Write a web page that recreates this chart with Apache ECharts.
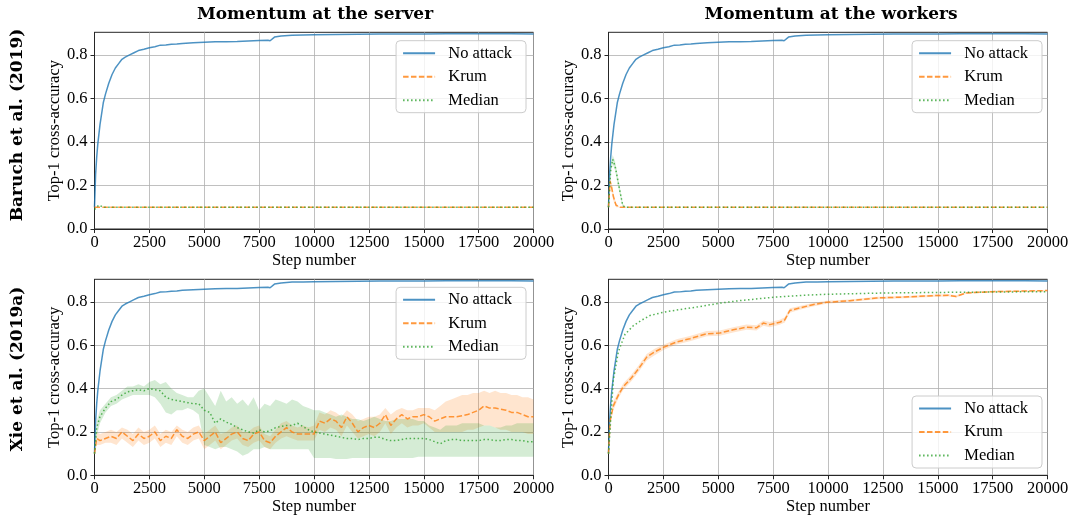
<!DOCTYPE html>
<html>
<head>
<meta charset="utf-8">
<script src="https://cdn.jsdelivr.net/npm/echarts@6/dist/echarts.min.js"></script>
<style>
  html, body { margin: 0; padding: 0; background: #fff; }
  #chart { width: 1073px; height: 517px; }
</style>
</head>
<body>
<div id="chart"></div>
<script>
// tick labels
var stepTicks = [0, 2500, 5000, 7500, 10000, 12500, 15000, 17500, 20000];
var accTicks = [0, 0.2, 0.4, 0.6, 0.8];

// no attack run (same curve in every panel)
var noAttackSteps = [0, 50, 100, 150, 250, 400, 500, 650, 800, 950, 1100, 1250, 1400, 1600, 1800, 2000, 2250, 2500, 2750, 3000, 3250, 3500, 3750, 4000, 4500, 5000, 5500, 6000, 6500, 7000, 7500, 7900, 8000, 8200, 8500, 9000, 9500, 10000, 11000, 12000, 13000, 14000, 15000, 16000, 17000, 18000, 19000, 20000];
var noAttackAcc = [0.10, 0.25, 0.33, 0.39, 0.48, 0.58, 0.62, 0.67, 0.71, 0.74, 0.76, 0.78, 0.79, 0.80, 0.81, 0.82, 0.826, 0.833, 0.838, 0.845, 0.846, 0.849, 0.850, 0.853, 0.856, 0.858, 0.860, 0.861, 0.862, 0.864, 0.866, 0.867, 0.865, 0.882, 0.887, 0.891, 0.892, 0.893, 0.894, 0.895, 0.896, 0.896, 0.896, 0.897, 0.897, 0.897, 0.897, 0.896];

// Baruch et al., momentum at the server
var baruchServerKrumSteps = [0, 20000];
var baruchServerKrumAcc = [0.10, 0.10];
var baruchServerMedianSteps = [0, 100, 200, 400, 20000];
var baruchServerMedianAcc = [0.09, 0.10, 0.11, 0.10, 0.10];

// Baruch et al., momentum at the workers
var baruchWorkersKrumSteps = [0, 70, 145, 220, 340, 520, 20000];
var baruchWorkersKrumAcc = [0.10, 0.22, 0.19, 0.15, 0.11, 0.10, 0.10];
var baruchWorkersKrumLow = [0.10, 0.20, 0.17, 0.13, 0.10, 0.10, 0.10];
var baruchWorkersKrumHigh = [0.10, 0.24, 0.21, 0.17, 0.12, 0.10, 0.10];
var baruchWorkersMedianSteps = [0, 100, 190, 300, 450, 645, 750, 20000];
var baruchWorkersMedianAcc = [0.10, 0.27, 0.32, 0.29, 0.21, 0.11, 0.10, 0.10];
var baruchWorkersMedianLow = [0.10, 0.25, 0.30, 0.27, 0.19, 0.10, 0.10, 0.10];
var baruchWorkersMedianHigh = [0.10, 0.29, 0.34, 0.31, 0.23, 0.12, 0.10, 0.10];

// Xie et al., momentum at the server
var xieServerSteps = [0, 100, 250, 500, 750, 1000, 1250, 1500, 1750, 2000,
  2250, 2500, 2750, 3000, 3250, 3500, 3750, 4000, 4250, 4500,
  4750, 5000, 5250, 5500, 5750, 6000, 6250, 6500, 6750, 7000,
  7250, 7500, 7750, 8000, 8250, 8500, 8750, 9000, 9250, 9500,
  9750, 10000, 10250, 10500, 10750, 11000, 11250, 11500, 11750, 12000,
  12250, 12500, 12750, 13000, 13250, 13500, 13750, 14000, 14250, 14500,
  14750, 15000, 15250, 15500, 15750, 16000, 16250, 16500, 16750, 17000,
  17250, 17500, 17750, 18000, 18250, 18500, 18750, 19000, 19250, 19500,
  19750, 20000];
var xieServerKrumAcc = [0.10, 0.17, 0.16, 0.17, 0.18, 0.17, 0.20, 0.18, 0.16, 0.19,
  0.17, 0.18, 0.20, 0.16, 0.18, 0.17, 0.21, 0.18, 0.17, 0.19,
  0.20, 0.16, 0.18, 0.20, 0.15, 0.17, 0.19, 0.20, 0.17, 0.16,
  0.19, 0.20, 0.16, 0.15, 0.18, 0.20, 0.22, 0.20, 0.19, 0.19,
  0.19, 0.19, 0.25, 0.24, 0.26, 0.25, 0.22, 0.27, 0.24, 0.20,
  0.22, 0.23, 0.22, 0.24, 0.28, 0.23, 0.26, 0.28, 0.26, 0.27,
  0.27, 0.28, 0.27, 0.25, 0.26, 0.27, 0.27, 0.27, 0.275, 0.28,
  0.29, 0.30, 0.32, 0.31, 0.31, 0.305, 0.30, 0.29, 0.29, 0.28,
  0.27, 0.27];
var xieServerKrumLow = [0.09, 0.14, 0.14, 0.15, 0.15, 0.14, 0.17, 0.15, 0.13, 0.16,
  0.14, 0.15, 0.17, 0.13, 0.15, 0.14, 0.18, 0.15, 0.14, 0.16,
  0.17, 0.12, 0.14, 0.16, 0.12, 0.14, 0.16, 0.17, 0.14, 0.13,
  0.15, 0.16, 0.13, 0.12, 0.15, 0.17, 0.18, 0.17, 0.16, 0.16,
  0.16, 0.16, 0.21, 0.20, 0.22, 0.21, 0.18, 0.23, 0.20, 0.17,
  0.18, 0.19, 0.18, 0.20, 0.24, 0.19, 0.22, 0.24, 0.22, 0.23,
  0.23, 0.24, 0.22, 0.20, 0.20, 0.20, 0.20, 0.20, 0.20, 0.21,
  0.21, 0.22, 0.23, 0.23, 0.22, 0.21, 0.21, 0.20, 0.20, 0.20,
  0.19, 0.19];
var xieServerKrumHigh = [0.11, 0.20, 0.19, 0.20, 0.21, 0.20, 0.22, 0.21, 0.19, 0.22,
  0.20, 0.21, 0.23, 0.19, 0.21, 0.20, 0.23, 0.21, 0.20, 0.22,
  0.23, 0.19, 0.21, 0.23, 0.19, 0.20, 0.22, 0.23, 0.20, 0.20,
  0.22, 0.23, 0.19, 0.18, 0.21, 0.24, 0.25, 0.23, 0.22, 0.23,
  0.22, 0.23, 0.29, 0.28, 0.30, 0.29, 0.27, 0.30, 0.28, 0.25,
  0.26, 0.27, 0.27, 0.28, 0.31, 0.28, 0.30, 0.31, 0.30, 0.30,
  0.31, 0.31, 0.31, 0.30, 0.32, 0.34, 0.35, 0.36, 0.37, 0.37,
  0.38, 0.38, 0.39, 0.38, 0.39, 0.38, 0.38, 0.37, 0.37, 0.36,
  0.36, 0.35];
var xieServerMedianAcc = [0.10, 0.22, 0.27, 0.31, 0.34, 0.35, 0.37, 0.385, 0.39, 0.395,
  0.39, 0.40, 0.395, 0.39, 0.36, 0.35, 0.345, 0.34, 0.335, 0.33,
  0.33, 0.30, 0.29, 0.24, 0.26, 0.245, 0.235, 0.22, 0.21, 0.20,
  0.195, 0.21, 0.20, 0.205, 0.22, 0.225, 0.23, 0.23, 0.24, 0.225,
  0.21, 0.20, 0.195, 0.19, 0.185, 0.18, 0.175, 0.17, 0.17, 0.165,
  0.17, 0.17, 0.175, 0.175, 0.165, 0.16, 0.16, 0.165, 0.17, 0.17,
  0.17, 0.17, 0.165, 0.155, 0.145, 0.16, 0.165, 0.165, 0.16, 0.16,
  0.16, 0.16, 0.165, 0.165, 0.16, 0.16, 0.165, 0.165, 0.16, 0.16,
  0.155, 0.155];
var xieServerMedianLow = [0.10, 0.18, 0.24, 0.29, 0.32, 0.33, 0.35, 0.36, 0.37, 0.37,
  0.37, 0.37, 0.36, 0.33, 0.29, 0.28, 0.30, 0.30, 0.31, 0.30,
  0.28, 0.14, 0.13, 0.12, 0.13, 0.13, 0.12, 0.11, 0.09, 0.10,
  0.12, 0.12, 0.13, 0.12, 0.12, 0.12, 0.12, 0.12, 0.12, 0.12,
  0.12, 0.08, 0.08, 0.08, 0.08, 0.075, 0.075, 0.075, 0.08, 0.08,
  0.08, 0.08, 0.08, 0.08, 0.08, 0.08, 0.08, 0.08, 0.08, 0.08,
  0.085, 0.085, 0.085, 0.085, 0.085, 0.085, 0.085, 0.085, 0.085, 0.085,
  0.085, 0.085, 0.085, 0.085, 0.085, 0.085, 0.085, 0.085, 0.085, 0.085,
  0.085, 0.085];
var xieServerMedianHigh = [0.10, 0.25, 0.30, 0.33, 0.36, 0.37, 0.39, 0.41, 0.41, 0.42,
  0.41, 0.43, 0.44, 0.42, 0.43, 0.40, 0.38, 0.37, 0.36, 0.36,
  0.39, 0.40, 0.36, 0.32, 0.39, 0.34, 0.36, 0.33, 0.35, 0.32,
  0.36, 0.30, 0.33, 0.32, 0.35, 0.34, 0.33, 0.35, 0.34, 0.32,
  0.31, 0.30, 0.30, 0.29, 0.28, 0.27, 0.28, 0.27, 0.26, 0.26,
  0.25, 0.26, 0.27, 0.26, 0.25, 0.25, 0.26, 0.26, 0.26, 0.26,
  0.25, 0.25, 0.23, 0.22, 0.21, 0.23, 0.23, 0.23, 0.24, 0.24,
  0.24, 0.24, 0.23, 0.23, 0.22, 0.22, 0.23, 0.23, 0.24, 0.24,
  0.24, 0.24];

// Xie et al., momentum at the workers
var xieWorkersKrumSteps = [0, 70, 220, 450, 680, 1050, 1360, 1740, 2120, 2500, 3100, 3710, 4470, 5070, 5680, 6290, 6740, 7050, 7350, 7800, 8030, 8260, 8710, 9310, 9930, 11000, 12200, 13500, 14930, 15500, 15840, 16300, 17500, 20000];
var xieWorkersKrumAcc = [0.10, 0.25, 0.32, 0.37, 0.41, 0.45, 0.49, 0.545, 0.57, 0.59, 0.615, 0.63, 0.653, 0.656, 0.671, 0.683, 0.68, 0.702, 0.695, 0.706, 0.717, 0.76, 0.772, 0.787, 0.798, 0.805, 0.818, 0.822, 0.829, 0.83, 0.825, 0.841, 0.847, 0.852];
var xieWorkersKrumLow = [0.10, 0.23, 0.30, 0.355, 0.395, 0.435, 0.475, 0.53, 0.555, 0.578, 0.603, 0.618, 0.641, 0.644, 0.659, 0.671, 0.668, 0.69, 0.683, 0.694, 0.705, 0.75, 0.763, 0.779, 0.791, 0.799, 0.812, 0.817, 0.824, 0.825, 0.82, 0.837, 0.843, 0.849];
var xieWorkersKrumHigh = [0.10, 0.27, 0.34, 0.385, 0.425, 0.465, 0.505, 0.56, 0.585, 0.602, 0.627, 0.642, 0.665, 0.668, 0.683, 0.695, 0.692, 0.714, 0.707, 0.718, 0.729, 0.77, 0.781, 0.795, 0.805, 0.811, 0.824, 0.827, 0.834, 0.835, 0.83, 0.845, 0.851, 0.855];
var xieWorkersMedianSteps = [0, 70, 220, 450, 750, 1130, 1500, 1890, 2500, 3400, 4160, 5000, 6000, 7500, 9000, 10000, 12650, 15700, 20000];
var xieWorkersMedianAcc = [0.10, 0.21, 0.44, 0.57, 0.65, 0.69, 0.715, 0.737, 0.752, 0.767, 0.778, 0.793, 0.806, 0.821, 0.831, 0.835, 0.841, 0.844, 0.847];

var BLUE = 'rgba(31,119,180,0.8)';
var ORANGE = 'rgba(255,127,14,0.8)';
var GREEN = 'rgba(44,160,44,0.8)';
var ORANGE_FILL = 'rgba(255,127,14,0.2)';
var GREEN_FILL = 'rgba(44,160,44,0.2)';
var FONT = 'Liberation Serif';
var TITLE_FONT = 'bold 17px "DejaVu Serif"';

function pairs(steps, vals) {
  return steps.map(function (s, i) { return [s, vals[i]]; });
}

function line(name, idx, steps, vals, color, dash) {
  return {
    name: name, type: 'line', xAxisIndex: idx, yAxisIndex: idx,
    data: pairs(steps, vals),
    symbol: 'none', showSymbol: false, z: 3,
    color: color,
    lineStyle: { color: color, width: 1.5, type: dash }
  };
}

// shaded band between lo and hi, drawn as one polygon through the axes
function band(idx, steps, lo, hi, fill) {
  return {
    type: 'custom', xAxisIndex: idx, yAxisIndex: idx, silent: true, z: 2,
    data: [[steps[0], lo[0]]],
    renderItem: function (params, api) {
      var pts = [];
      for (var i = 0; i < steps.length; i++) pts.push(api.coord([steps[i], hi[i]]));
      for (var j = steps.length - 1; j >= 0; j--) pts.push(api.coord([steps[j], lo[j]]));
      return { type: 'polygon', shape: { points: pts }, style: { fill: fill, stroke: null } };
    }
  };
}

var DASH = [5.5, 2.4];
var DOT = [1.5, 2.5];

var grids = [
  { left: 94.5, top: 32.3, width: 439, height: 196.7 },
  { left: 608.5, top: 32.3, width: 439, height: 196.7 },
  { left: 94.5, top: 279.3, width: 439, height: 196 },
  { left: 608.5, top: 279.3, width: 439, height: 196 }
];
var legendPos = [
  { right: 547, top: 40.7 },
  { right: 31, top: 40.7 },
  { right: 547, top: 287.3 },
  { right: 31, top: 396 }
];

var chart = echarts.init(document.getElementById('chart'), null, { renderer: 'canvas' });

var series = [];
// top-left
series.push(line('No attack', 0, noAttackSteps, noAttackAcc, BLUE, 'solid'));
series.push(line('Krum', 0, baruchServerKrumSteps, baruchServerKrumAcc, ORANGE, DASH));
series.push(line('Median', 0, baruchServerMedianSteps, baruchServerMedianAcc, GREEN, DOT));
// top-right
series.push(line('No attack', 1, noAttackSteps, noAttackAcc, BLUE, 'solid'));
series.push(band(1, baruchWorkersKrumSteps, baruchWorkersKrumLow, baruchWorkersKrumHigh, ORANGE_FILL));
series.push(line('Krum', 1, baruchWorkersKrumSteps, baruchWorkersKrumAcc, ORANGE, DASH));
series.push(band(1, baruchWorkersMedianSteps, baruchWorkersMedianLow, baruchWorkersMedianHigh, GREEN_FILL));
series.push(line('Median', 1, baruchWorkersMedianSteps, baruchWorkersMedianAcc, GREEN, DOT));
// bottom-left
series.push(line('No attack', 2, noAttackSteps, noAttackAcc, BLUE, 'solid'));
series.push(band(2, xieServerSteps, xieServerKrumLow, xieServerKrumHigh, ORANGE_FILL));
series.push(line('Krum', 2, xieServerSteps, xieServerKrumAcc, ORANGE, DASH));
series.push(band(2, xieServerSteps, xieServerMedianLow, xieServerMedianHigh, GREEN_FILL));
series.push(line('Median', 2, xieServerSteps, xieServerMedianAcc, GREEN, DOT));
// bottom-right
series.push(line('No attack', 3, noAttackSteps, noAttackAcc, BLUE, 'solid'));
series.push(band(3, xieWorkersKrumSteps, xieWorkersKrumLow, xieWorkersKrumHigh, ORANGE_FILL));
series.push(line('Krum', 3, xieWorkersKrumSteps, xieWorkersKrumAcc, ORANGE, DASH));
series.push(line('Median', 3, xieWorkersMedianSteps, xieWorkersMedianAcc, GREEN, DOT));

chart.setOption({
  animation: false,
  backgroundColor: '#ffffff',
  grid: grids.map(function (g) {
    return Object.assign({ show: true, borderColor: '#262626', borderWidth: 1, backgroundColor: 'transparent' }, g);
  }),
  xAxis: grids.map(function (g, i) {
    return {
      type: 'value', gridIndex: i, min: 0, max: 20000, interval: 2500,
      name: 'Step number', nameLocation: 'middle', nameGap: 21,
      nameTextStyle: { fontFamily: FONT, fontSize: 16.5, color: '#000' },
      axisLine: { show: true, onZero: false, lineStyle: { color: '#262626', width: 1 } },
      axisTick: { show: true, length: 4, lineStyle: { color: '#262626' }, customValues: stepTicks },
      axisLabel: {
        fontFamily: FONT, fontSize: 16.5, color: '#000', margin: 5, customValues: stepTicks,
        formatter: function (v) { return String(v); }
      },
      splitLine: { show: true, lineStyle: { color: '#b0b0b0', width: 0.8 } }
    };
  }),
  yAxis: grids.map(function (g, i) {
    return {
      type: 'value', gridIndex: i, min: 0, max: 0.904, interval: 0.2,
      name: 'Top-1 cross-accuracy', nameLocation: 'middle', nameGap: 30,
      nameTextStyle: { fontFamily: FONT, fontSize: 16.5, color: '#000' },
      axisLine: { show: true, onZero: false, lineStyle: { color: '#262626', width: 1 } },
      axisTick: { show: true, length: 4, lineStyle: { color: '#262626' }, customValues: accTicks },
      axisLabel: {
        fontFamily: FONT, fontSize: 16.5, color: '#000', margin: 7, customValues: accTicks,
        formatter: function (v) { return v.toFixed(1); }
      },
      splitLine: { show: true, lineStyle: { color: '#b0b0b0', width: 0.8 } }
    };
  }),
  legend: legendPos.map(function (p) {
    return Object.assign({
      orient: 'vertical',
      data: ['No attack', 'Krum', 'Median'],
      itemWidth: 32, itemHeight: 14, itemGap: 6.5,
      padding: [4, 14, 4, 6],
      itemStyle: { opacity: 0 },
      backgroundColor: 'rgba(255,255,255,0.8)',
      borderColor: '#cccccc', borderWidth: 1, borderRadius: 4,
      formatter: '  {name}',
      textStyle: { fontFamily: FONT, fontSize: 16.5, color: '#000' }
    }, p);
  }),
  graphic: [
    { type: 'text', x: 315, y: 15, style: { text: 'Momentum at the server', font: TITLE_FONT, fill: '#000', textAlign: 'center', textVerticalAlign: 'middle' } },
    { type: 'text', x: 831, y: 15, style: { text: 'Momentum at the workers', font: TITLE_FONT, fill: '#000', textAlign: 'center', textVerticalAlign: 'middle' } },
    { type: 'text', x: 18, y: 125, rotation: Math.PI / 2, style: { text: 'Baruch et al. (2019)', font: TITLE_FONT, fill: '#000', textAlign: 'center', textVerticalAlign: 'middle' } },
    { type: 'text', x: 18, y: 369, rotation: Math.PI / 2, style: { text: 'Xie et al. (2019a)', font: TITLE_FONT, fill: '#000', textAlign: 'center', textVerticalAlign: 'middle' } }
  ],
  series: series
});
</script>
</body>
</html>
